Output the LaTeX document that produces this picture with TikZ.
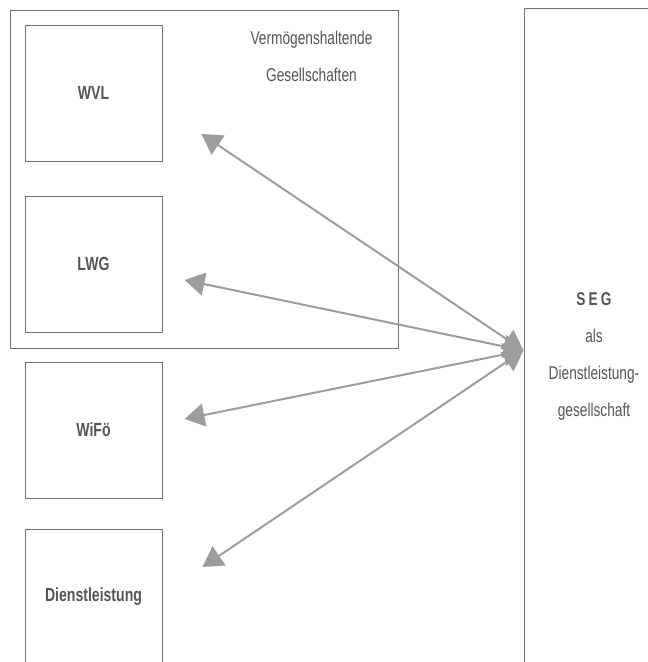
\documentclass[tikz,border=0pt]{standalone}
\usepackage{fontspec}
\setmainfont[FakeStretch=0.74]{Liberation Sans}
\usetikzlibrary{arrows.meta}
\definecolor{boxline}{HTML}{727272}
\definecolor{arrowgray}{HTML}{9D9D9D}
\definecolor{txtgray}{HTML}{555555}
\begin{document}
\begin{tikzpicture}[x=1pt,y=-1pt,
  boxline/.style={draw=boxline,line width=1pt},
  entity/.style={boxline,minimum width=137pt,minimum height=136pt,inner sep=0pt,
    text=txtgray,font=\fontsize{19}{22}\selectfont\bfseries},
  plain/.style={text=txtgray,align=center,inner sep=0pt,font=\fontsize{18.5}{37}\selectfont},
  link/.style={draw=arrowgray,line width=2pt,
    {Triangle[length=20pt,width=23pt]}-{Triangle[length=20pt,width=23pt]}}]
\useasboundingbox (0,0) rectangle (648,662);
\clip (0,0) rectangle (648,662);
% outer group box
\node[boxline,minimum width=388pt,minimum height=338pt,inner sep=0pt] (group) at (204,179) {};
\node[plain] (grouplabel) at (311.5,56) {Vermögenshaltende\\Gesellschaften};
% entity boxes
\node[entity] (wvl) at (93.5,93) {WVL};
\node[entity] (lwg) at (93.5,264) {LWG};
\node[entity] (wifo) at (93.5,430) {WiFö};
\node[entity] (dienst) at (93.5,597) {Dienstleistung};
% SEG box (extends beyond the page)
\node[boxline,minimum width=200pt,minimum height=700pt,inner sep=0pt,anchor=north west] (seg) at (524,8) {};
\node[plain] (seglabel) at (594,356) {\textbf{S\,E\,G}\\als\\Dienstleistung-\\gesellschaft};
% arrow end points
\coordinate (hub) at (523.5,350.5);
\coordinate (twvl) at (201.5,134);
\coordinate (tlwg) at (184.5,280);
\coordinate (twifo) at (184.5,419);
\coordinate (tdienst) at (202.5,567);
\draw[link] (hub) -- (twvl);
\draw[link] (hub) -- (tlwg);
\draw[link] (hub) -- (twifo);
\draw[link] (hub) -- (tdienst);
\end{tikzpicture}
\end{document}
